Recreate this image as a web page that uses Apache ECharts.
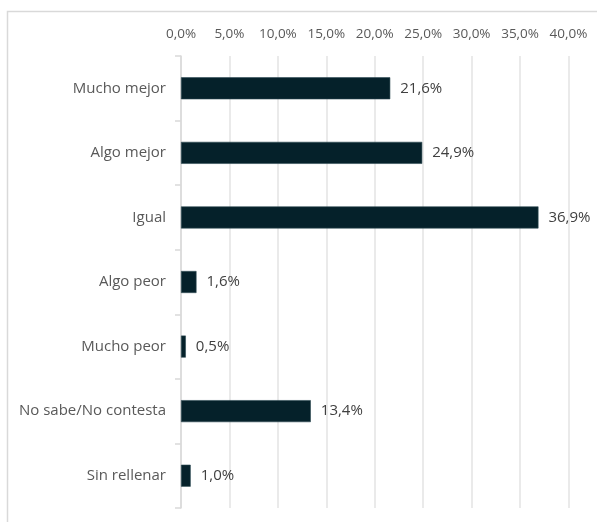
<!DOCTYPE html>
<html>
<head>
<meta charset="utf-8">
<script src="https://cdn.jsdelivr.net/npm/echarts@6/dist/echarts.min.js"></script>
<style>
  html, body { margin: 0; padding: 0; background: #ffffff; }
  #chart { width: 597px; height: 522px; }
</style>
</head>
<body>
<div id="chart"></div>
<script>
// Response categories, top to bottom
const categories = ['Mucho mejor', 'Algo mejor', 'Igual', 'Algo peor', 'Mucho peor', 'No sabe/No contesta', 'Sin rellenar'];
// Share of responses (%)
const shares = [21.6, 24.9, 36.9, 1.6, 0.5, 13.4, 1.0];
// Scale of the percentage axis
const axisMin = 0;
const axisMax = 40;
const axisStep = 5;

const fmt = v => v.toFixed(1).replace('.', ',') + '%';
const font = '"Open Sans", "Liberation Sans", sans-serif';

const chart = echarts.init(document.getElementById('chart'), null, { renderer: 'canvas' });
chart.setOption({
  animation: false,
  backgroundColor: '#ffffff',
  graphic: [{
    type: 'rect',
    shape: { x: 7.5, y: 11.5, width: 620, height: 540 },
    style: { fill: 'none', stroke: '#d9d9d9', lineWidth: 1.5 },
    silent: true
  }],
  grid: { left: 181, right: 28.5, top: 56, bottom: 14, containLabel: false },
  xAxis: {
    type: 'value',
    position: 'top',
    min: axisMin,
    max: axisMax,
    interval: axisStep,
    axisLine: { show: false },
    axisTick: { show: false },
    axisLabel: {
      formatter: v => fmt(v),
      color: '#595959',
      fontFamily: font,
      fontSize: 13.5,
      margin: 15
    },
    splitLine: { show: true, lineStyle: { color: '#e3e3e3', width: 1.5 } }
  },
  yAxis: {
    type: 'category',
    data: categories,
    inverse: true,
    axisLine: { show: true, lineStyle: { color: '#d9d9d9', width: 1.5 } },
    axisTick: { show: true, length: 6, lineStyle: { color: '#d9d9d9', width: 1.5 } },
    axisLabel: {
      color: '#595959',
      fontFamily: font,
      fontSize: 15,
      margin: 15
    }
  },
  series: [{
    type: 'bar',
    data: shares,
    barWidth: 22,
    itemStyle: { color: '#05212a', borderColor: '#2e4a52', borderWidth: 0.6 },
    label: {
      show: true,
      position: 'right',
      distance: 10,
      formatter: p => fmt(p.value),
      color: '#404040',
      fontFamily: font,
      fontSize: 15
    }
  }]
});
</script>
</body>
</html>
